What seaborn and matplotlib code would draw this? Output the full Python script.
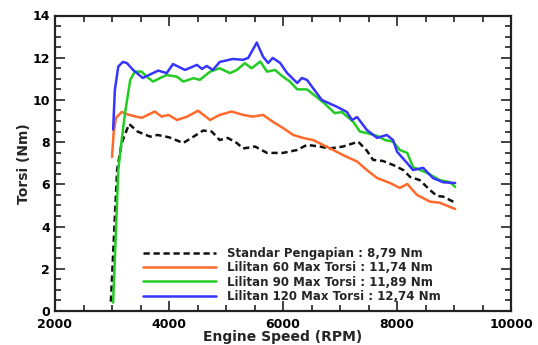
import pandas as pd
import numpy as np
import matplotlib
matplotlib.use("Agg")
import matplotlib.pyplot as plt
from matplotlib.ticker import MultipleLocator
from matplotlib.lines import Line2D
import seaborn as sns

# engine speed (RPM) / torque (Nm)
std_rpm = [2980, 3090, 3170, 3300, 3450, 3670, 3800, 4000, 4250, 4430, 4600, 4750, 4890,
           5030, 5190, 5300, 5510, 5720, 6000, 6250, 6420, 6650, 6820, 7050, 7320, 7470,
           7580, 7750, 7930, 8110, 8230, 8400, 8580, 8700, 8810, 9020]
std_torque = [0.44, 6.7, 7.96, 8.86, 8.5, 8.26, 8.34, 8.23, 7.96, 8.26, 8.55, 8.5, 8.1,
              8.2, 7.96, 7.7, 7.79, 7.49, 7.49, 7.63, 7.87, 7.79, 7.7, 7.79, 8.02, 7.6,
              7.16, 7.11, 6.92, 6.68, 6.35, 6.2, 5.73, 5.45, 5.42, 5.13]

l60_rpm = [3000, 3030, 3070, 3170, 3300, 3520, 3750, 3870, 3990, 4140, 4320, 4510, 4720,
           4890, 5100, 5200, 5300, 5470, 5650, 5820, 6000, 6180, 6350, 6530, 6700, 6880,
           7050, 7300, 7470, 7650, 7880, 8050, 8180, 8350, 8580, 8750, 9020]
l60_torque = [7.3, 8.5, 9.15, 9.43, 9.29, 9.15, 9.45, 9.21, 9.29, 9.05, 9.21, 9.49, 9.05,
              9.29, 9.45, 9.37, 9.29, 9.21, 9.29, 8.97, 8.67, 8.34, 8.2, 8.1, 7.87, 7.63,
              7.39, 7.08, 6.68, 6.3, 6.06, 5.83, 6.02, 5.5, 5.18, 5.13, 4.83]

l90_rpm = [3020, 3110, 3170, 3230, 3320, 3400, 3520, 3610, 3720, 3840, 3960, 4140, 4250,
           4430, 4540, 4720, 4890, 5070, 5190, 5330, 5450, 5600, 5720, 5860, 6000, 6120,
           6250, 6420, 6700, 6910, 7030, 7230, 7350, 7470, 7650, 7790, 7930, 8050, 8180,
           8280, 8530, 8750, 8930, 9020]
l90_torque = [0.4, 6.68, 8.1, 9.4, 10.95, 11.34, 11.34, 11.1, 10.87, 11.03, 11.18, 11.1, 10.87,
              11.03, 10.95, 11.34, 11.5, 11.27, 11.42, 11.74, 11.5, 11.82, 11.34, 11.42, 11.1, 10.87,
              10.5, 10.5, 9.9, 9.37, 9.43, 8.97, 8.5, 8.43, 8.3, 8.1, 8.02, 7.63, 7.49,
              6.82, 6.54, 6.2, 6.1, 5.88]

l120_rpm = [3020, 3050, 3110, 3190, 3260, 3370, 3540, 3810, 3960, 4070, 4280, 4490, 4580,
            4660, 4770, 4890, 5120, 5300, 5390, 5540, 5650, 5740, 5820, 5950, 6070, 6250,
            6330, 6420, 6680, 6950, 7120, 7210, 7300, 7470, 7650, 7820, 7930, 8000, 8180,
            8280, 8460, 8630, 8810, 9020]
l120_torque = [8.6, 10.47, 11.58, 11.8, 11.75, 11.42, 11.04, 11.39, 11.27, 11.7, 11.42, 11.66, 11.47,
               11.61, 11.42, 11.8, 11.94, 11.9, 11.99, 12.72, 12.05, 11.75, 11.99, 11.75, 11.28, 10.8,
               11.04, 10.95, 10.0, 9.67, 9.43, 9.05, 9.19, 8.58, 8.2, 8.34, 8.1, 7.55, 7.0,
               6.68, 6.78, 6.3, 6.1, 6.06]

labels = ["Standar Pengapian : 8,79 Nm",
          "Lilitan 60 Max Torsi : 11,74 Nm",
          "Lilitan 90 Max Torsi : 11,89 Nm",
          "Lilitan 120 Max Torsi : 12,74 Nm"]
colors = ["#111111", "#ff6a2a", "#22cc22", "#3535ff"]

df = pd.concat([
    pd.DataFrame({"rpm": std_rpm, "torque": std_torque, "series": labels[0]}),
    pd.DataFrame({"rpm": l60_rpm, "torque": l60_torque, "series": labels[1]}),
    pd.DataFrame({"rpm": l90_rpm, "torque": l90_torque, "series": labels[2]}),
    pd.DataFrame({"rpm": l120_rpm, "torque": l120_torque, "series": labels[3]}),
], ignore_index=True)

sns.set_style("ticks")
plt.rcParams["font.family"] = ["DejaVu Sans"]
plt.rcParams["font.weight"] = "bold"

fig = plt.figure(figsize=(5.38, 3.45), dpi=100)
ax = fig.add_axes([55 / 538, 1 - 311 / 345, 456 / 538, (311 - 15.5) / 345])

sns.lineplot(data=df, x="rpm", y="torque", hue="series", style="series",
             palette=dict(zip(labels, colors)),
             dashes={labels[0]: (2.5, 1.5), labels[1]: "", labels[2]: "", labels[3]: ""},
             sort=False, estimator=None, linewidth=1.8, legend=False, ax=ax)

ax.set_xlim(2000, 10000)
ax.set_ylim(0, 14)
ax.xaxis.set_major_locator(MultipleLocator(2000))
ax.xaxis.set_minor_locator(MultipleLocator(500))
ax.yaxis.set_major_locator(MultipleLocator(2))
ax.yaxis.set_minor_locator(MultipleLocator(0.5))
ax.tick_params(which="both", direction="in", top=True, right=True, colors="#222222",
               labelsize=9, width=1.2)
ax.tick_params(which="major", length=7)
ax.tick_params(which="minor", length=4)
ax.tick_params(axis="x", which="major", pad=5)
for lab in ax.get_xticklabels() + ax.get_yticklabels():
    lab.set_fontweight("bold")
    lab.set_color("black")
for s in ax.spines.values():
    s.set_linewidth(1.6)
    s.set_color("#222222")

ax.set_xlabel("Engine Speed (RPM)", fontsize=10, fontweight="bold", labelpad=-1)
ax.set_ylabel("Torsi (Nm)", fontsize=10, fontweight="bold", labelpad=1)

handles = [Line2D([], [], color=colors[0], lw=1.8, dashes=(2.5, 1.5))] + \
          [Line2D([], [], color=c, lw=1.8) for c in colors[1:]]
ax.legend(handles, labels, loc="lower left", bbox_to_anchor=(0.193, 0.028),
          frameon=False, handlelength=6.2, handletextpad=0.9,
          labelspacing=0.1, borderpad=0, borderaxespad=0,
          prop={"weight": "bold", "size": 8.5})

fig.savefig("out.png", dpi=100)
